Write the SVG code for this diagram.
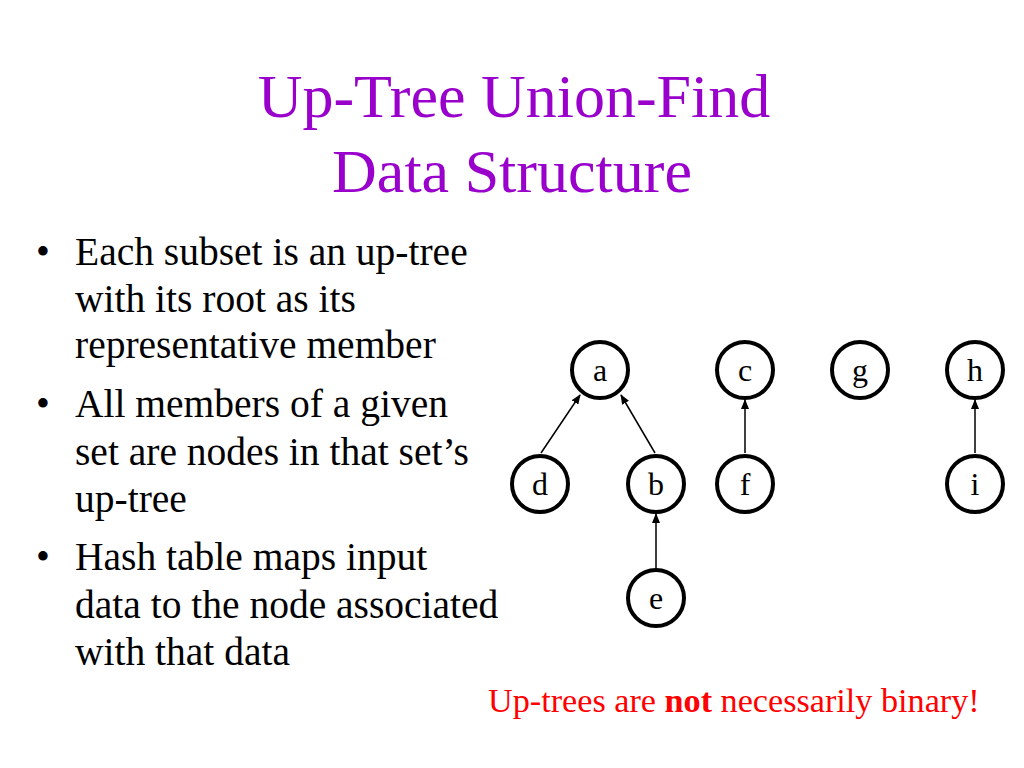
<svg xmlns="http://www.w3.org/2000/svg" width="1024" height="768" viewBox="0 0 1024 768">
<defs>
<marker id="arr" markerWidth="10" markerHeight="8" refX="9" refY="4" orient="auto" markerUnits="userSpaceOnUse">
<path d="M0,0 L10,4 L0,8 Z" fill="#000"/>
</marker>
</defs>
<style>
.t{font-family:"Liberation Serif","Times New Roman",serif}
.title{font-size:62px;fill:#9900CC;text-anchor:middle}
.body{font-size:39.5px;fill:#000}
.node circle{fill:#fff;stroke:#000;stroke-width:4}
.node text{font-family:"Liberation Serif","Times New Roman",serif;font-size:32px;text-anchor:middle;fill:#000}
.edge{stroke:#000;stroke-width:1.5;fill:none;marker-end:url(#arr)}
.note{font-size:34.2px;fill:#FF0000}
</style>
<rect width="1024" height="768" fill="#fff"/>
<g id="title" class="t">
<text class="title" x="514" y="117">Up-Tree Union-Find</text>
<text class="title" x="512" y="192">Data Structure</text>
</g>
<g id="bullets" class="t body">
<text x="36" y="265">•</text>
<text x="75" y="265">Each subset is an up-tree</text>
<text x="75" y="312">with its root as its</text>
<text x="75" y="358">representative member</text>
<text x="36" y="417">•</text>
<text x="75" y="417">All members of a given</text>
<text x="75" y="465">set are nodes in that set’s</text>
<text x="75" y="512">up-tree</text>
<text x="36" y="570">•</text>
<text x="75" y="570">Hash table maps input</text>
<text x="75" y="618">data to the node associated</text>
<text x="75" y="665">with that data</text>
</g>
<g id="connectors">
<line class="edge" x1="541" y1="453" x2="580" y2="395"/>
<line class="edge" x1="655" y1="453" x2="621" y2="395"/>
<line class="edge" x1="656" y1="568" x2="656" y2="514"/>
<line class="edge" x1="745" y1="453" x2="745" y2="400"/>
<line class="edge" x1="975" y1="453" x2="975" y2="400"/>
</g>
<g id="node-a" class="node"><circle cx="600" cy="370" r="28"/><text x="600" y="381">a</text></g>
<g id="node-c" class="node"><circle cx="745" cy="370" r="28"/><text x="745" y="381">c</text></g>
<g id="node-g" class="node"><circle cx="860" cy="370" r="28"/><text x="860" y="381">g</text></g>
<g id="node-h" class="node"><circle cx="975" cy="370" r="28"/><text x="975" y="381">h</text></g>
<g id="node-d" class="node"><circle cx="540" cy="484" r="28"/><text x="540" y="495">d</text></g>
<g id="node-b" class="node"><circle cx="656" cy="484" r="28"/><text x="656" y="495">b</text></g>
<g id="node-f" class="node"><circle cx="745" cy="484" r="28"/><text x="745" y="495">f</text></g>
<g id="node-i" class="node"><circle cx="975" cy="484" r="28"/><text x="975" y="495">i</text></g>
<g id="node-e" class="node"><circle cx="656" cy="598" r="28"/><text x="656" y="609">e</text></g>
<g id="note" class="t note">
<text x="488" y="712">Up-trees are <tspan font-weight="bold">not</tspan> necessarily binary!</text>
</g>
</svg>
